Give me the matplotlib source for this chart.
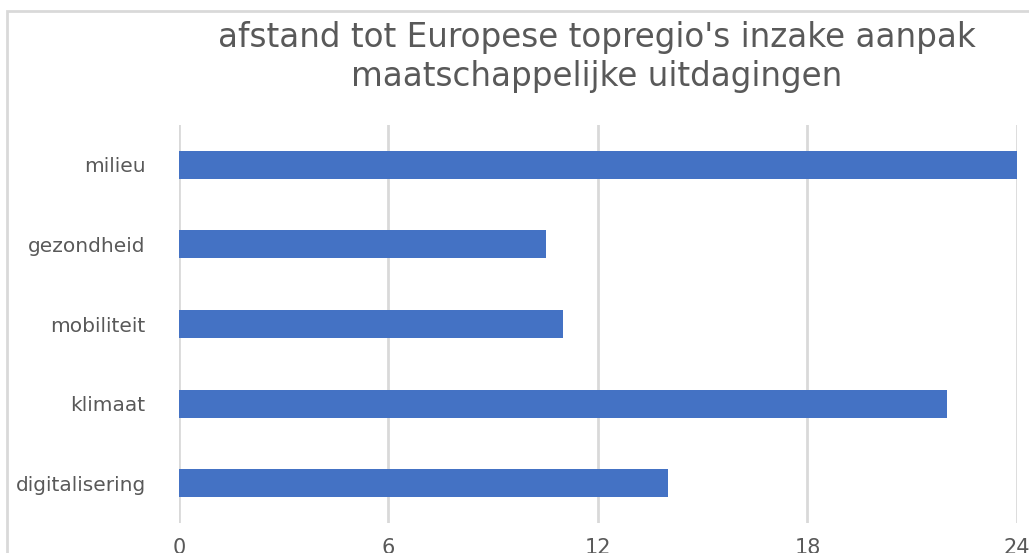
import matplotlib
matplotlib.use("Agg")
import matplotlib.pyplot as plt
from matplotlib.patches import Rectangle

categories = ["digitalisering", "klimaat", "mobiliteit", "gezondheid", "milieu"]
values = [14.0, 22.0, 11.0, 10.5, 24.0]
xticks = [0, 6, 12, 18, 24]
title = "afstand tot Europese topregio's inzake aanpak\nmaatschappelijke uitdagingen"

W, H = 1029, 553
fig = plt.figure(figsize=(W / 100, H / 100), dpi=100)
ax = fig.add_axes([179 / W, 1 - 523 / H, (1017 - 179) / W, (523 - 125) / H])

ax.barh(range(len(categories)), values, height=0.35, color="#4472C4", zorder=3)
ax.set_ylim(-0.5, len(categories) - 0.5)
ax.set_xlim(0, 24)
ax.set_xticks(xticks)
ax.set_xticklabels([str(t) for t in xticks])
ax.set_yticks(range(len(categories)))
ax.set_yticklabels(categories)

for s in ax.spines.values():
    s.set_visible(False)
ax.grid(axis="x", color="#d9d9d9", linewidth=2, zorder=0)
ax.tick_params(axis="y", length=0, pad=24, labelsize=14.5, labelcolor="#595959")
ax.tick_params(axis="x", length=0, pad=11, labelsize=15, labelcolor="#595959")
for lbl in ax.get_xticklabels() + ax.get_yticklabels():
    lbl.set_family("DejaVu Sans")

fig.text(597 / W, 1 - 57 / H, title, ha="center", va="center", fontsize=23.5,
         color="#595959", linespacing=1.2, family="DejaVu Sans")

frame = Rectangle((7 / W, -0.1), 1.2, 1 - 11 / H + 0.1, transform=fig.transFigure,
                  fill=False, edgecolor="#d9d9d9", linewidth=2, zorder=0)
fig.patches.append(frame)

fig.savefig("out.png", dpi=100)
